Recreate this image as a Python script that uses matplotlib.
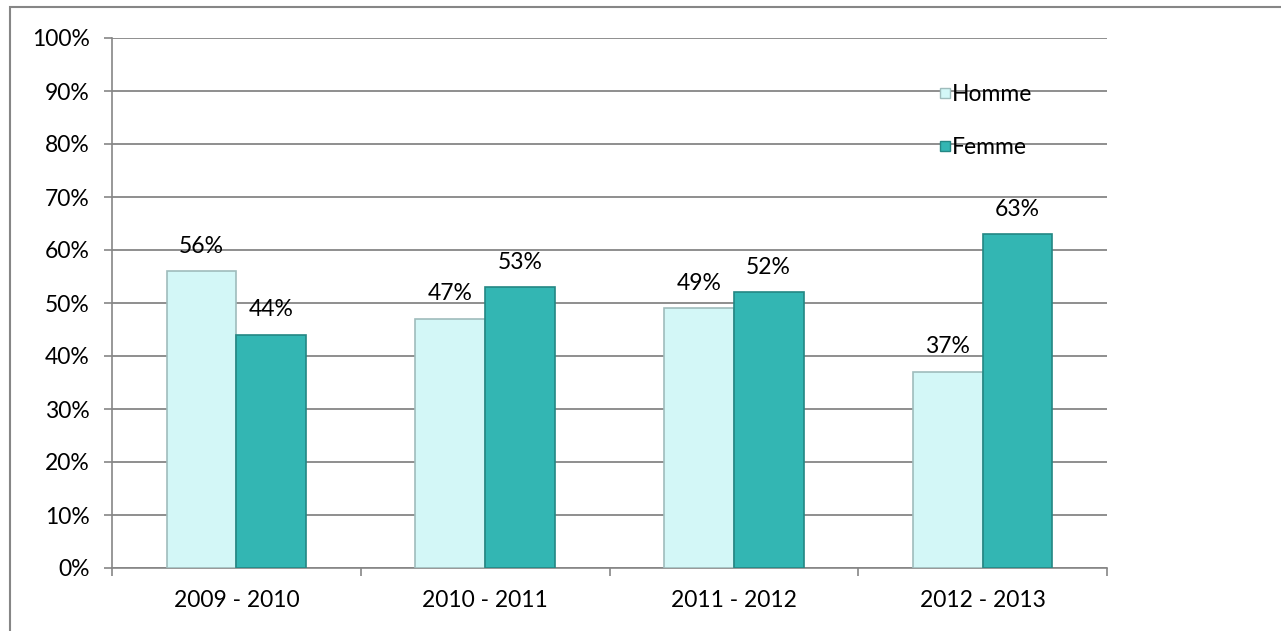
import numpy as np
import matplotlib.pyplot as plt
from matplotlib.lines import Line2D
from matplotlib.patches import Rectangle

periods = ['2009 - 2010', '2010 - 2011', '2011 - 2012', '2012 - 2013']
homme = [56, 47, 49, 37]
femme = [44, 53, 52, 63]
series_names = ['Homme', 'Femme']

plt.rcParams['font.family'] = ['Lato', 'DejaVu Sans']
W, H = 1281, 631
fs = 16.5
fig = plt.figure(figsize=(W / 100, H / 100), dpi=100)
ax = fig.add_axes([112 / W, 1 - 568 / H, (1107 - 112) / W, (568 - 38) / H])

grid_c = '#868686'
c_homme, e_homme = '#d3f7f7', '#9fbcbc'
c_femme, e_femme = '#33b6b3', '#248784'

x = np.arange(len(periods))
w = 0.28
b1 = ax.bar(x - w / 2, homme, w, color=c_homme, edgecolor=e_homme, linewidth=1.2, zorder=3)
b2 = ax.bar(x + w / 2, femme, w, color=c_femme, edgecolor=e_femme, linewidth=1.2, zorder=3)

for bars, vals in ((b1, homme), (b2, femme)):
    for r, v in zip(bars, vals):
        ax.annotate(f'{v}%', (r.get_x() + r.get_width() / 2, v), xytext=(0, 18),
                    textcoords='offset points', ha='center', va='center',
                    fontsize=fs, color='black')

ax.set_xlim(-0.5, len(periods) - 0.5)
ax.set_ylim(0, 100)
ax.set_yticks(np.arange(0, 101, 10))
ax.set_yticklabels([f'{v}%' for v in range(0, 101, 10)], fontsize=fs)
ax.set_xticks(x)
ax.set_xticklabels(periods, fontsize=fs)
ax.set_xticks(np.arange(-0.5, len(periods), 1), minor=True)
ax.tick_params(axis='x', which='major', length=0, pad=16)
ax.tick_params(axis='x', which='minor', length=6, width=1.2, color=grid_c, direction='out')
ax.tick_params(axis='y', length=6, width=1.2, color=grid_c, pad=10)
ax.yaxis.grid(True, color=grid_c, linewidth=1.3, zorder=0)
ax.set_axisbelow(True)
for s in ('top', 'right'):
    ax.spines[s].set_visible(False)
for s in ('left', 'bottom'):
    ax.spines[s].set_color(grid_c)
    ax.spines[s].set_linewidth(1.2)

handles = [Line2D([], [], marker='s', linestyle='none', markersize=7,
                  markerfacecolor=c_homme, markeredgecolor=e_homme),
           Line2D([], [], marker='s', linestyle='none', markersize=7,
                  markerfacecolor=c_femme, markeredgecolor=e_femme)]
fig.legend(handles, series_names, loc='upper left', bbox_to_anchor=(940 / W, 1 - 84 / H),
           frameon=False, fontsize=fs, handlelength=0.4, handletextpad=0.1,
           labelspacing=1.4, borderpad=0, borderaxespad=0)

fig.patches.append(Rectangle((10 / W, -0.1), 1.2, 1.1 - 7 / H, transform=fig.transFigure,
                             fill=False, edgecolor=grid_c, linewidth=1.5))

fig.savefig('out.png', dpi=100)
